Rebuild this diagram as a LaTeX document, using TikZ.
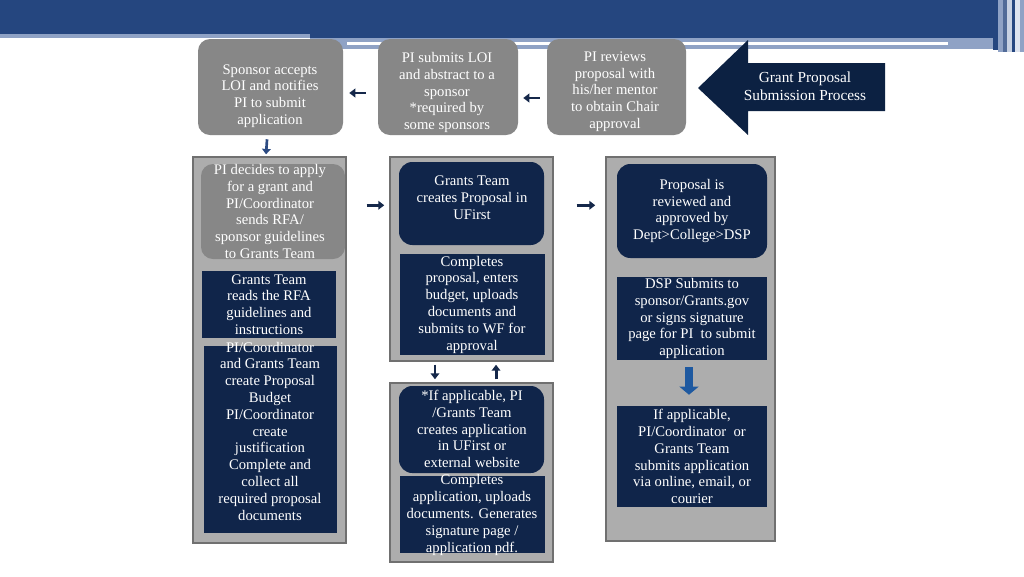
\documentclass[tikz,border=0pt]{standalone}
\usepackage{fontspec}
\setmainfont{Liberation Serif}
\usetikzlibrary{arrows.meta,fit}
\definecolor{hdrblue}{HTML}{25467F}
\definecolor{hdrlight}{HTML}{8FA2C5}
\definecolor{boxgray}{HTML}{878787}
\definecolor{contgray}{HTML}{ADADAD}
\definecolor{contborder}{HTML}{707070}
\definecolor{navy}{HTML}{10254A}
\definecolor{bignavy}{HTML}{0C2142}
\definecolor{arrnavy}{HTML}{15284A}
\definecolor{arrblue}{HTML}{2C4A82}
\definecolor{bigblue}{HTML}{1E59A0}
\begin{document}
\begin{tikzpicture}[x=0.75pt,y=-0.75pt,
  gbox/.style={fill=boxgray, rounded corners=9pt, inner sep=0pt},
  cont/.style={fill=contgray, draw=contborder, line width=1.1pt, inner sep=0pt},
  nbox/.style={fill=navy, inner sep=0pt},
  nrbox/.style={fill=navy, rounded corners=10pt, inner sep=0pt},
  txt/.style={text=white, align=center, font=\fontsize{11}{12.6}\selectfont, inner sep=0pt},
  arr/.style={draw=arrnavy, line width=2.2pt, -{Triangle[length=4.5pt,width=6.5pt]}},
  darr/.style={draw=arrblue, line width=2pt, -{Triangle[length=4pt,width=6.5pt]}},
  barr/.style={draw=bigblue, line width=6.5pt, -{Triangle[length=6pt,width=14pt]}}
]
\useasboundingbox (0,0) rectangle (1024,576);
\fill[white] (0,0) rectangle (1024,576);
% header
\fill[hdrblue] (0,0) rectangle (1024,34);
\fill[hdrlight] (0,34) rectangle (310,38);
\fill[hdrblue] (310,34) rectangle (1000,38);
\fill[hdrlight] (310,38) rectangle (1005,49);
\fill[white] (347,42) rectangle (948,44.5);
\fill[hdrblue] (993,0) rectangle (998,50);
\fill[hdrlight] (998,0) rectangle (1003,52);
\fill[hdrblue!80] (1003,0) rectangle (1007,52);
\fill[hdrlight!50] (1007,0) rectangle (1012,52);
\fill[hdrblue] (1012,0) rectangle (1015,52);
\fill[hdrlight!30] (1015,0) rectangle (1020,52);
\fill[hdrlight] (1020,0) rectangle (1024,52);

% big title arrow
\fill[bignavy] (698,88) -- (748,40) -- (748,63) -- (885,63) -- (885,111) -- (748,111) -- (748,135) -- cycle;
\node[txt, font=\fontsize{11.5}{13.5}\selectfont] (title) at (805,86) {Grant Proposal\\Submission Process};

% top row
\node[gbox, fit={(198,39)(343,135)}] (A) {};
\node[gbox, fit={(378,39)(518,135)}] (B) {};
\node[gbox, fit={(547,39)(686,135)}] (C) {};
\node[txt] (Atxt) at (270,96) {Sponsor accepts\\LOI and notifies\\PI to submit\\application};
\node[txt] (Btxt) at (447,92.5) {PI submits LOI\\and abstract to a\\sponsor\\*required by\\some sponsors};
\node[txt] (Ctxt) at (615,91.5) {PI reviews\\proposal with\\his/her mentor\\to obtain Chair\\approval};

% containers
\node[cont, fit={(193,157)(346,543)}] (C1) {};
\node[cont, fit={(390,157)(553,361)}] (C2) {};
\node[cont, fit={(390,383)(553,562)}] (C2b) {};
\node[cont, fit={(606,157)(775,541)}] (C3) {};

% column 1
\node[gbox, fit={(201,164)(345,259)}] (P1) {};
\node[txt] (P1t) at (270,211.5) {PI decides to apply\\for a grant and\\PI/Coordinator\\sends RFA/\\sponsor guidelines\\to Grants Team};
\node[nbox, fit={(202,271)(336,338)}] (P2) {};
\node[txt] (P2t) at (269,304.5) {Grants Team\\reads the RFA\\guidelines and\\instructions};
\node[nbox, fit={(204,346)(337,533)}] (P3) {};
\node[txt] (P3t) at (270,431) {PI/Coordinator\\and Grants Team\\create Proposal\\Budget\\PI/Coordinator\\create\\justification\\Complete and\\collect all\\required proposal\\documents};

% column 2
\node[nrbox, fit={(399,162)(544,245)}] (Q1) {};
\node[txt] (Q1t) at (472,197.5) {Grants Team\\creates Proposal in\\UFirst};
\node[nbox, fit={(400,254)(545,355)}] (Q2) {};
\node[txt] (Q2t) at (472,304.5) {Completes\\proposal, enters\\budget, uploads\\documents and\\submits to WF for\\approval};
\node[nrbox, fit={(399,386)(544,473)}] (Q3) {};
\node[txt] (Q3t) at (472,429) {*If applicable, PI\\/Grants Team\\creates application\\in UFirst or\\external website};
\node[nbox, fit={(400,476)(545,553)}] (Q4) {};
\node[txt] (Q4t) at (472,515) {Completes\\application, uploads\\documents. Generates\\signature page /\\application pdf.};

% column 3
\node[nrbox, fit={(617,164)(767,258)}] (R0) {};
\node[txt] (R0t) at (692,211) {Proposal is\\reviewed and\\approved by\\Dept>College>DSP};
\node[nbox, fit={(617,277)(767,360)}] (R1) {};
\node[txt] (R1t) at (692,318.5) {DSP Submits to\\sponsor/Grants.gov\\or signs signature\\page for PI\ \ to submit\\application};
\node[nbox, fit={(617,406)(767,507)}] (R2) {};
\node[txt] (R2t) at (692,456.5) {If applicable,\\PI/Coordinator\ \ or\\Grants Team\\submits application\\via online, email, or\\courier};

% connectors
\draw[arr] ([xshift=-9pt,yshift=-4.5pt]B.west) -- ([xshift=4.5pt,yshift=-4.5pt]A.east);
\draw[arr] ([xshift=-5.25pt,yshift=-8.25pt]C.west) -- ([xshift=3.75pt,yshift=-8.25pt]B.east);
\draw[darr] ([xshift=-2.6pt,yshift=-3pt]A.south) -- ([xshift=-2.6pt,yshift=1.5pt]C1.north);
\draw[arr] ([xshift=15pt,yshift=-36.75pt]C1.north east) -- ([xshift=-3.75pt,yshift=-36.75pt]C2.north west);
\draw[arr] ([xshift=17.25pt,yshift=-36.75pt]C2.north east) -- ([xshift=-7.5pt,yshift=-36.75pt]C3.north west);
\draw[arr] ([xshift=-27.4pt,yshift=-2.25pt]C2.south) -- ([xshift=-27.4pt,yshift=2.25pt]C2b.north);
\draw[arr] ([xshift=18.4pt,yshift=2.25pt]C2b.north) -- ([xshift=18.4pt,yshift=-2.25pt]C2.south);
\draw[barr] ([xshift=-2.25pt,yshift=-5.25pt]R1.south) -- ([xshift=-2.25pt,yshift=8.25pt]R2.north);
\end{tikzpicture}
\end{document}
